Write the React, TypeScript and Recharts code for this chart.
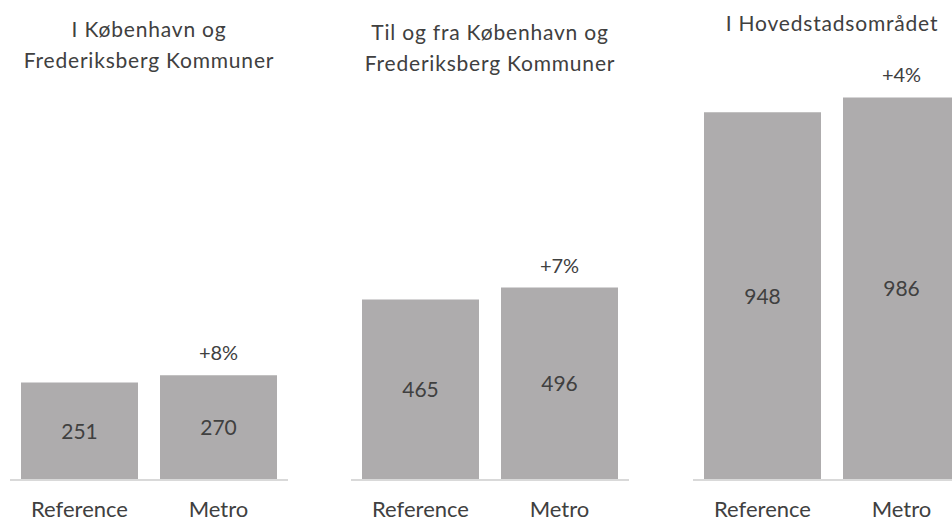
import React from "react";
import { BarChart, Bar, XAxis, YAxis, LabelList } from "recharts";

const categories = ["Reference", "Metro"];
const panelTitles = [
  ["I København og", "Frederiksberg Kommuner"],
  ["Til og fra København og", "Frederiksberg Kommuner"],
  ["I Hovedstadsområdet"],
];
const kbhFrbValues = [251, 270];
const tilFraValues = [465, 496];
const hovedstadValues = [948, 986];
const changeLabels = ["+8%", "+7%", "+4%"];
const yMax = 1000;

const panelValues = [kbhFrbValues, tilFraValues, hovedstadValues];
const panelLefts = [0, 341, 683];
const titleBaselines = [
  [36.7, 68],
  [40, 71],
  [30.7],
];

const CHART_W = 300;
const CHART_H = 522;
const MARGIN = { top: 92, right: 12, bottom: 12, left: 10 };
const TEXT = "#404040";
const BAR = "#AEACAD";
const FONT = "Lato, 'Open Sans', sans-serif";

function Panel({ idx }: { idx: number }) {
  const data = categories.map((c, i) => ({
    name: c,
    value: panelValues[idx][i],
    change: i === categories.length - 1 ? changeLabels[idx] : "",
  }));
  return (
    <div style={{ position: "absolute", left: panelLefts[idx], top: 0 }}>
      <BarChart
        width={CHART_W}
        height={CHART_H}
        data={data}
        margin={MARGIN}
        barCategoryGap={11}
      >
        <XAxis
          dataKey="name"
          height={30}
          tickLine={false}
          tickSize={0}
          tickMargin={21}
          axisLine={{ stroke: "#D9D9D9", strokeWidth: 2 }}
          tick={{ fill: TEXT, fontSize: 22, fontFamily: FONT }}
          interval={0}
        />
        <YAxis hide domain={[0, yMax]} />
        <Bar dataKey="value" fill={BAR} isAnimationActive={false}>
          <LabelList
            dataKey="value"
            position="center"
            fill={TEXT}
            fontSize={21}
            fontFamily={FONT}
          />
          <LabelList
            dataKey="change"
            position="top"
            offset={15}
            fill={TEXT}
            fontSize={20}
            fontFamily={FONT}
          />
        </Bar>
      </BarChart>
    </div>
  );
}

export default function App() {
  const plotW = CHART_W - MARGIN.left - MARGIN.right;
  return (
    <div
      style={{
        position: "absolute",
        left: 0,
        top: 0,
        width: 952,
        height: 522,
        overflow: "hidden",
        background: "#fff",
        fontFamily: FONT,
      }}
    >
      {panelTitles.map((_, i) => (
        <Panel key={i} idx={i} />
      ))}
      <svg
        width={952}
        height={522}
        style={{ position: "absolute", left: 0, top: 0, pointerEvents: "none" }}
      >
        {panelTitles.map((lines, i) =>
          lines.map((line, j) => (
            <text
              key={`${i}-${j}`}
              x={panelLefts[i] + MARGIN.left + plotW / 2}
              y={titleBaselines[i][j]}
              textAnchor="middle"
              fill={TEXT}
              fontSize={21}
              fontFamily={FONT}
              letterSpacing={0.8}
            >
              {line}
            </text>
          ))
        )}
      </svg>
    </div>
  );
}
